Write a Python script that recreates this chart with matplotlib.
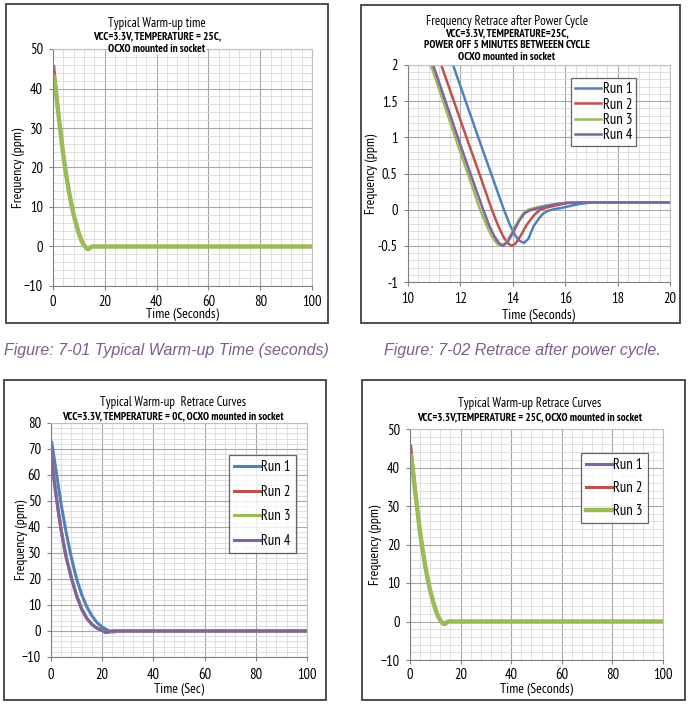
import numpy as np
from matplotlib import pyplot as plt
from matplotlib import font_manager
from matplotlib.patches import Rectangle
from matplotlib.ticker import MultipleLocator

# Excel 2007 default series colours
BLUE = '#4F81BD'
RED = '#C0504D'
GREEN = '#9BBB59'
PURPLE = '#8064A2'

# Warm-up at 25C (figures 7-01 and lower right)
t_warm = [0.3, 1, 2, 3, 4, 5, 6, 7, 8, 9, 10, 11, 12, 13, 13.5, 14, 15, 16, 100]
warm_red = [45.5, 41, 34.5, 28.7, 23.2, 18.6, 14.5, 11, 8, 5.5, 3.3, 1.5, 0.3, -0.5, -0.7, -0.5, 0, 0, 0]
warm_green = [43, 40, 34, 28.5, 23, 18.5, 14.5, 11, 8, 5.5, 3.3, 1.5, 0.3, -0.5, -0.7, -0.5, 0, 0, 0]
warm_purple = [43, 40, 34, 28.5, 23, 18.5, 14.5, 11, 8, 5.5, 3.3, 1.5, 0.3, -0.5, -0.7, -0.5, 0, 0, 0]

# Retrace after power cycle (zoomed 10..20 s)
rt1_t = [11.4, 11.72, 12.2, 12.7, 13.2, 13.66, 13.9, 14.1, 14.25, 14.43, 14.6, 14.79, 15.0, 15.17,
         15.35, 15.55, 15.8, 16.06, 16.3, 16.56, 16.8, 17.06, 18, 20]
rt1_y = [2.33, 2.0, 1.5, 0.98, 0.47, 0.0, -0.22, -0.36, -0.43, -0.46, -0.4, -0.23, -0.12, -0.05,
         -0.015, 0.005, 0.02, 0.04, 0.06, 0.08, 0.09, 0.1, 0.1, 0.1]
rt2_t = [11.0, 11.27, 11.75, 12.25, 12.75, 13.2, 13.45, 13.65, 13.8, 13.96, 14.1, 14.3, 14.53, 14.8,
         15.04, 15.3, 15.55, 15.8, 16.06, 16.5, 17, 20]
rt2_y = [2.28, 2.0, 1.5, 0.98, 0.47, 0.0, -0.23, -0.38, -0.46, -0.5, -0.47, -0.36, -0.21, -0.08,
         0.0, 0.03, 0.05, 0.07, 0.09, 0.1, 0.1, 0.1]
rt3_t = [10.6, 10.87, 11.35, 11.8, 12.3, 12.75, 13.0, 13.2, 13.4, 13.57, 13.75, 13.95, 14.2, 14.4,
         14.58, 14.9, 15.3, 15.7, 16.06, 17, 20]
rt3_y = [2.29, 2.0, 1.49, 1.0, 0.48, 0.0, -0.22, -0.37, -0.47, -0.5, -0.45, -0.33, -0.16, -0.05,
         0.0, 0.03, 0.06, 0.08, 0.095, 0.1, 0.1]
rt4_t = [10.7, 10.96, 11.44, 11.9, 12.4, 12.87, 13.1, 13.3, 13.47, 13.62, 13.8, 14.0, 14.25, 14.45,
         14.65, 14.95, 15.3, 15.7, 16.06, 17, 20]
rt4_y = [2.28, 2.0, 1.49, 1.0, 0.48, 0.0, -0.22, -0.37, -0.46, -0.5, -0.45, -0.32, -0.15, -0.05,
         -0.01, 0.02, 0.05, 0.08, 0.095, 0.1, 0.1]

# Warm-up at 0C
t_cold = [0.3, 1, 2, 3, 4, 5, 6, 8, 10, 12, 14, 16, 18, 20, 21.4, 22, 23, 24, 25, 26, 100]
cold1 = [72.5, 68, 61.5, 55, 48.5, 43, 37.5, 28, 20, 14, 9.3, 5.8, 3.2, 1.5, 0.7, 0.4, 0, -0.4, -0.3, 0, 0]
cold2 = [67.5, 60, 52.3, 45.2, 38.7, 33.2, 28.2, 20.4, 13.7, 8.4, 4.9, 2.6, 1.1, 0.3, -0.6, -0.5, -0.3, 0, 0, 0, 0]
cold3 = [67.2, 59.7, 52.1, 45.1, 38.6, 33.1, 28.1, 20.3, 13.6, 8.3, 4.8, 2.5, 1.0, 0.2, -0.6, -0.5, -0.3, 0, 0, 0, 0]
cold4 = [67, 59.5, 52, 45, 38.5, 33, 28, 20.2, 13.5, 8.3, 4.8, 2.5, 1.0, 0.2, -0.6, -0.5, -0.3, 0, 0, 0, 0]

runs = ['Run 1', 'Run 2', 'Run 3', 'Run 4']

W, H = 690, 705


def wnum(w):
    if isinstance(w, (int, float)):
        return w
    return font_manager.weight_dict.get(str(w), 400)


# pick a narrow sans (Excel "Arial Narrow" look) that also has a bold face
weights = {}
for f in font_manager.fontManager.ttflist:
    weights.setdefault(f.name, set()).add(wnum(f.weight))
NARROW = 'Liberation Sans'
for cand in ['Liberation Sans Narrow', 'Arial Narrow', 'Archivo Narrow', 'PT Sans Narrow',
             'Roboto Condensed', 'Open Sans Condensed', 'IBM Plex Sans Condensed', 'Encode Sans Condensed',
             'Pragati Narrow', 'Asap Condensed', 'Fira Sans Condensed']:
    if cand in weights and max(weights[cand]) >= 700 and min(weights[cand]) <= 400:
        NARROW = cand
        break
plt.rcParams['font.family'] = [NARROW, 'Liberation Sans', 'DejaVu Sans']

PT = 0.72  # points per pixel at dpi 100


def px_axes(fig, left, top, right, bottom):
    return fig.add_axes([left / W, 1 - bottom / H, (right - left) / W, (bottom - top) / H])


def frame(fig, left, top, right, bottom):
    fig.patches.append(Rectangle((left / W, 1 - bottom / H), (right - left) / W, (bottom - top) / H,
                                 transform=fig.transFigure, fill=False, edgecolor='#404040',
                                 linewidth=1.3, zorder=0))


def style(ax, xlim, ylim, xmaj, xmin, ymaj, ymin):
    ax.set_xlim(*xlim)
    ax.set_ylim(*ylim)
    ax.xaxis.set_major_locator(MultipleLocator(xmaj))
    ax.xaxis.set_minor_locator(MultipleLocator(xmin))
    ax.yaxis.set_major_locator(MultipleLocator(ymaj))
    ax.yaxis.set_minor_locator(MultipleLocator(ymin))
    ax.grid(which='major', color='#a6a6a6', linewidth=0.8)
    ax.grid(which='minor', color='#d9d9d9', linewidth=0.6)
    ax.set_axisbelow(True)
    for s in ax.spines.values():
        s.set_color('#bfbfbf')
        s.set_linewidth(0.8)
    ax.spines['left'].set_color('#808080')
    ax.spines['bottom'].set_color('#808080')
    ax.tick_params(which='major', direction='out', length=3, color='#808080', labelsize=10.5)
    ax.tick_params(which='minor', length=0)


def labels(ax, box, xlab, ylab, xlab_y, ylab_x, xtick_y):
    left, top, right, bottom = box
    ax.tick_params(axis='x', pad=(xtick_y - bottom - 4 - 6) * PT)
    ax.tick_params(axis='y', pad=6 * PT)
    ax.set_xlabel(xlab, fontsize=10)
    ax.set_ylabel(ylab, fontsize=10)
    ax.xaxis.set_label_coords(0.5, -(xlab_y - bottom) / (bottom - top))
    ax.yaxis.set_label_coords(-(left - ylab_x) / (right - left), 0.5)
    ax.xaxis.label.set_va('center')
    ax.yaxis.label.set_va('center')


def legend(ax, loc, spacing, pad=0.35):
    leg = ax.legend(loc='upper left', bbox_to_anchor=loc, fontsize=10.5, frameon=True, fancybox=False,
                    edgecolor='#404040', handlelength=1.75, handletextpad=0.12, labelspacing=spacing,
                    borderpad=pad, borderaxespad=0)
    leg.get_frame().set_linewidth(0.9)


def titles(fig, x, y0, main, subs, dy=12.5):
    fig.text(x / W, 1 - y0 / H, main, ha='center', va='center', fontsize=9.3)
    for i, s in enumerate(subs):
        fig.text(x / W, 1 - (y0 + dy * (i + 1)) / H, s, ha='center', va='center', fontsize=8,
                 fontweight='bold', bbox=dict(facecolor='white', edgecolor='none', pad=0.6))


fig = plt.figure(figsize=(W / 100, H / 100), dpi=100)

# Panel 1: typical warm-up time
frame(fig, 6, 4, 328, 323)
box1 = (53, 49, 312, 286)
ax1 = px_axes(fig, *box1)
style(ax1, (0, 100), (-10, 50), 20, 4, 10, 2)
ax1.plot(t_warm, warm_red, color=RED, lw=2.2)
ax1.plot(t_warm, warm_green, color=GREEN, lw=3.2)
labels(ax1, box1, 'Time (Seconds)', 'Frequency (ppm)', 315, 18, 301)
titles(fig, 157, 24, 'Typical Warm-up time',
       ['VCC=3.3V, TEMPERATURE = 25C,', 'OCXO mounted in socket'])

# Panel 2: retrace after power cycle
frame(fig, 361, 5, 680, 323)
box2 = (408, 65, 670, 282)
ax2 = px_axes(fig, *box2)
style(ax2, (10, 20), (-1, 2), 2, 0.4, 0.5, 0.1)
ax2.yaxis.set_major_formatter(plt.FuncFormatter(lambda v, p: f'{v:g}'))
ax2.plot(rt1_t, rt1_y, color=BLUE, lw=1.8, label=runs[0])
ax2.plot(rt2_t, rt2_y, color=RED, lw=1.8, label=runs[1])
ax2.plot(rt3_t, rt3_y, color=GREEN, lw=1.8, label=runs[2])
ax2.plot(rt4_t, rt4_y, color=PURPLE, lw=1.8, label=runs[3])
labels(ax2, box2, 'Time (Seconds)', 'Frequency (ppm)', 316, 372, 298)
legend(ax2, (0.622, 0.94), 0.08, pad=0.3)
titles(fig, 507, 22, 'Frequency Retrace after Power Cycle',
       ['VCC=3.3V, TEMPERATURE=25C,', 'POWER OFF 5 MINUTES BETWEEEN CYCLE', 'OCXO mounted in socket'],
       dy=11.7)

# Captions
cap = dict(fontsize=11.5, style='italic', color='#7D5C8E', ha='center', va='center',
           family=['Liberation Sans', 'DejaVu Sans'])
fig.text(166 / W, 1 - 350 / H, 'Figure: 7-01 Typical Warm-up Time (seconds)', **cap)
fig.text(522 / W, 1 - 350 / H, 'Figure: 7-02 Retrace after power cycle.', **cap)

# Panel 3: warm-up at 0C
frame(fig, 4, 380, 326, 700)
box3 = (51, 423, 307, 657)
ax3 = px_axes(fig, *box3)
style(ax3, (0, 100), (-10, 80), 20, 4, 10, 2)
ax3.plot(t_cold, cold1, color=BLUE, lw=2.2, label=runs[0])
ax3.plot(t_cold, cold2, color=RED, lw=2.2, label=runs[1])
ax3.plot(t_cold, cold3, color=GREEN, lw=2.2, label=runs[2])
ax3.plot(t_cold, cold4, color=PURPLE, lw=2.2, label=runs[3])
labels(ax3, box3, 'Time (Sec)', 'Frequency (ppm)', 690, 22, 674)
legend(ax3, (0.695, 0.863), 0.72)
titles(fig, 173, 402, 'Typical Warm-up  Retrace Curves',
       ['VCC=3.3V, TEMPERATURE = 0C, OCXO mounted in socket'], dy=14)

# Panel 4: warm-up at 25C, three runs
frame(fig, 362, 380, 685, 700)
box4 = (410, 429, 663, 660)
ax4 = px_axes(fig, *box4)
style(ax4, (0, 100), (-10, 50), 20, 4, 10, 2)
ax4.plot(t_warm, warm_purple, color=PURPLE, lw=2.2, label=runs[0])
ax4.plot(t_warm, warm_red, color=RED, lw=2.2, label=runs[1])
ax4.plot(t_warm, warm_green, color=GREEN, lw=3.2, label=runs[2])
labels(ax4, box4, 'Time (Seconds)', 'Frequency (ppm)', 689.5, 375, 674)
legend(ax4, (0.676, 0.896), 0.6)
titles(fig, 530, 403, 'Typical Warm-up Retrace Curves',
       ['VCC=3.3V,TEMPERATURE = 25C, OCXO mounted in socket'], dy=14)

fig.savefig('out.png', dpi=100, facecolor='white')
